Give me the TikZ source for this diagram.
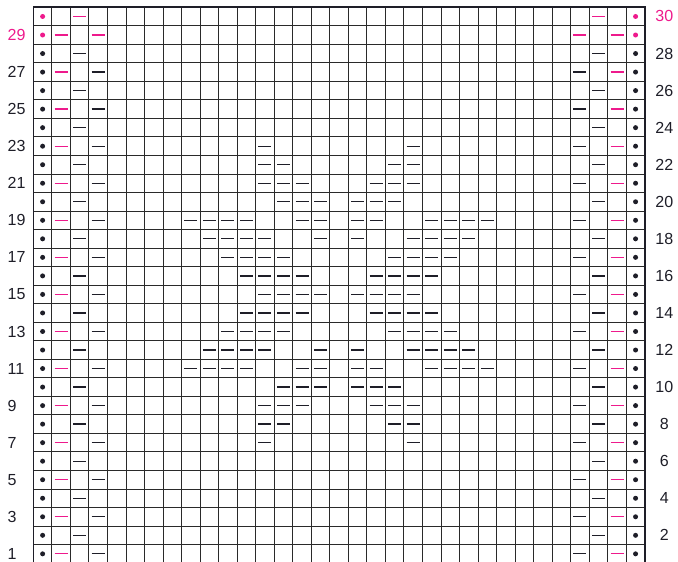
\documentclass[tikz,border=0pt]{standalone}
\usepackage{fontspec}
\setmainfont{Liberation Sans}
\definecolor{knitpink}{HTML}{EE1A8C}
\definecolor{gridgray}{HTML}{2A2A2A}
\definecolor{inkdark}{HTML}{1E1E28}
\begin{document}
\begin{tikzpicture}[x=.5cm,y=.5cm,
  purl/.style={line width=1pt,inkdark},
  purlpink/.style={line width=1pt,knitpink},
  rowno/.style={inner sep=0pt,text=inkdark,font=\fontsize{12.3}{14}\selectfont}]
\useasboundingbox (-1.80,0.06) rectangle (34.79,30.39);
% chart grid
\draw[gridgray,line width=.7pt,step=1] (0,0) grid (33,30);
\draw[inkdark,line width=1.3pt] (0,0) rectangle (33,30);
% edge stitches
\foreach \r in {1,...,28} {
  \fill[inkdark] (0.5,\r-0.5) circle (0.135);
  \fill[inkdark] (32.5,\r-0.5) circle (0.135);
}
\foreach \r in {29,30} {
  \fill[knitpink] (0.5,\r-0.5) circle (0.135);
  \fill[knitpink] (32.5,\r-0.5) circle (0.135);
}
\foreach \r in {1,3,...,27} {
  \draw[purlpink] (1.15,\r-0.5) -- (1.85,\r-0.5);
  \draw[purlpink] (31.15,\r-0.5) -- (31.85,\r-0.5);
  \draw[purl] (3.15,\r-0.5) -- (3.85,\r-0.5);
  \draw[purl] (29.15,\r-0.5) -- (29.85,\r-0.5);
}
\foreach \r in {2,4,...,28} {
  \draw[purl] (2.15,\r-0.5) -- (2.85,\r-0.5);
  \draw[purl] (30.15,\r-0.5) -- (30.85,\r-0.5);
}
\foreach \c in {1,3,29,31} \draw[purlpink] (\c+0.15,28.5) -- (\c+0.85,28.5);
\foreach \c in {2,30} \draw[purlpink] (\c+0.15,29.5) -- (\c+0.85,29.5);
% centre motif, mirrored left/right and about row 15
\foreach \k/\cols in {0/{12,13,14,15},1/{11,12,13,14},2/{10,11,12,13},
    3/{9,10,11,12,15},4/{8,9,10,11,14,15},5/{13,14,15},6/{12,13,14},
    7/{12,13},8/{12}} {
  \foreach \c in \cols {
    \foreach \r in {15+\k,15-\k} {
      \draw[purl] (\c+0.15,\r-0.5) -- (\c+0.85,\r-0.5);
      \draw[purl] (32-\c+0.15,\r-0.5) -- (32-\c+0.85,\r-0.5);
    }
  }
}
% row numbers
\foreach \r in {1,3,...,27}
  \node[rowno,anchor=west] (left\r) at (-1.40,\r-0.5) {\r};
\node[rowno,anchor=west,text=knitpink] (left29) at (-1.40,28.5) {29};
\foreach \r in {2,4,...,28}
  \node[rowno] (right\r) at (34.05,\r-0.5) {\r};
\node[rowno,text=knitpink] (right30) at (34.05,29.5) {30};
\end{tikzpicture}
\end{document}
